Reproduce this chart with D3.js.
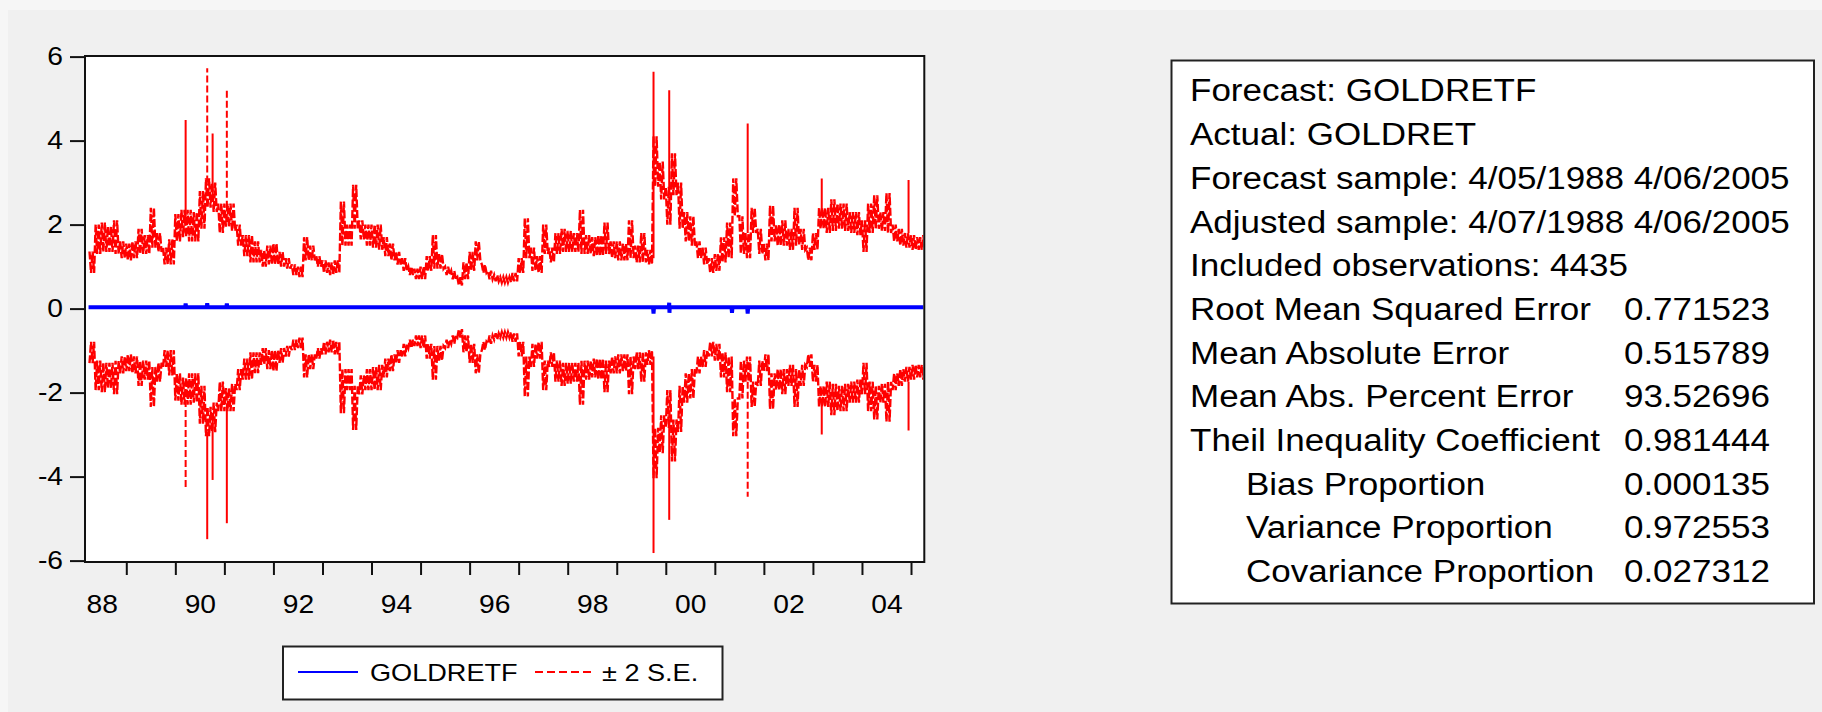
<!DOCTYPE html>
<html><head><meta charset="utf-8">
<script src="https://cdn.jsdelivr.net/npm/d3@7"></script>
<style>
html,body{margin:0;padding:0;background:#f0f0f0;}
svg{display:block;}
text{font-family:"Liberation Sans", Arial, sans-serif; fill:#000;}
</style></head><body>
<svg id="chart" width="1822" height="712"></svg>
<script>
// ---------------- DATA ----------------
const yTickValues = [-6, -4, -2, 0, 2, 4, 6];
const yTickLabels = ["-6","-4","-2","0","2","4","6"];
const yearTicks = [1989,1990,1991,1992,1993,1994,1995,1996,1997,1998,1999,2000,2001,2002,2003,2004,2005];
const yearLabelPos = [1988.5,1990.5,1992.5,1994.5,1996.5,1998.5,2000.5,2002.5,2004.5];
const yearLabels = ["88","90","92","94","96","98","00","02","04"];

// sample dates of the +2 S.E. band (decimal years)
const bandTimes = [
 1988.25,1988.375,1988.5,1988.625,1988.75,1988.875,
 1989,1989.125,1989.25,1989.375,1989.5,1989.625,1989.75,1989.875,
 1990,1990.125,1990.25,1990.375,1990.5,1990.625,1990.75,1990.875,
 1991,1991.125,1991.25,1991.375,1991.5,1991.625,1991.75,1991.875,
 1992,1992.125,1992.25,1992.375,1992.5,1992.625,1992.75,1992.875,
 1993,1993.125,1993.25,1993.375,1993.5,1993.625,1993.75,1993.875,
 1994,1994.125,1994.25,1994.375,1994.5,1994.625,1994.75,1994.875,
 1995,1995.125,1995.25,1995.375,1995.5,1995.625,1995.75,1995.875,
 1996,1996.125,1996.25,1996.375,1996.5,1996.625,1996.75,1996.875,
 1997,1997.125,1997.25,1997.375,1997.5,1997.625,1997.75,1997.875,
 1998,1998.125,1998.25,1998.375,1998.5,1998.625,1998.75,1998.875,
 1999,1999.125,1999.25,1999.375,1999.5,1999.625,1999.75,1999.875,
 2000,2000.125,2000.25,2000.375,2000.5,2000.625,2000.75,2000.875,
 2001,2001.125,2001.25,2001.375,2001.5,2001.625,2001.75,2001.875,
 2002,2002.125,2002.25,2002.375,2002.5,2002.625,2002.75,2002.875,
 2003,2003.125,2003.25,2003.375,2003.5,2003.625,2003.75,2003.875,
 2004,2004.125,2004.25,2004.375,2004.5,2004.625,2004.75,2004.875,
 2005,2005.125,2005.25
];
// upper band: outer (high) edge of the jagged band
const upperOuter = [
 1.36,2.0,2.05,1.95,2.1,1.6,
 1.55,1.6,1.9,1.75,2.4,1.8,1.45,1.65,
 2.25,2.35,2.35,2.3,2.8,3.1,3.0,2.5,
 2.5,2.5,2.0,1.75,1.75,1.6,1.4,1.5,
 1.55,1.35,1.2,1.05,1.0,1.7,1.5,1.25,
 1.15,1.1,1.15,2.55,2.0,2.95,2.1,2.0,
 2.0,2.0,1.7,1.55,1.35,1.2,1.0,0.95,
 1.0,1.25,1.75,1.3,1.0,0.9,0.75,1.1,
 1.35,1.6,1.05,0.9,0.8,0.75,0.75,0.85,
 1.2,2.15,1.45,1.25,2.0,1.45,1.8,1.9,
 1.85,1.8,2.35,1.75,1.7,1.75,2.05,1.6,
 1.6,1.55,2.1,1.5,1.8,1.4,4.1,3.5,
 2.9,3.7,3.0,2.3,2.2,1.6,1.45,1.2,
 1.3,1.7,2.05,3.1,2.2,1.8,2.4,1.9,
 1.55,2.45,2.0,2.1,1.9,2.4,1.9,1.45,
 1.8,2.4,2.4,2.6,2.5,2.5,2.3,2.3,
 2.1,2.5,2.7,2.3,2.75,2.0,1.9,1.8,
 1.75,1.7,1.75
];
// upper band: inner (low) edge of the jagged band
const upperInner = [
 0.85,1.3,1.35,1.35,1.3,1.2,
 1.15,1.2,1.3,1.3,1.45,1.35,1.05,1.05,
 1.6,1.7,1.6,1.6,1.9,2.4,2.3,1.8,
 1.95,1.85,1.5,1.25,1.1,1.1,1.0,1.05,
 1.05,1.0,0.95,0.8,0.75,1.15,1.15,1.0,
 0.85,0.8,0.85,1.5,1.5,1.9,1.65,1.5,
 1.45,1.4,1.25,1.15,1.05,0.9,0.8,0.7,
 0.7,0.9,0.95,0.95,0.8,0.7,0.55,0.7,
 0.9,1.15,0.85,0.7,0.65,0.62,0.62,0.65,
 0.85,1.2,0.9,0.85,1.3,1.1,1.3,1.35,
 1.35,1.35,1.3,1.3,1.25,1.25,1.3,1.2,
 1.15,1.15,1.2,1.1,1.1,1.05,2.9,2.6,
 2.0,2.7,1.9,1.6,1.5,1.2,1.05,0.85,
 0.9,1.1,1.2,2.2,1.3,1.2,1.8,1.3,
 1.15,1.6,1.5,1.5,1.4,1.5,1.4,1.15,
 1.4,1.9,1.8,1.85,1.9,1.85,1.8,1.75,
 1.35,1.8,1.9,1.85,1.8,1.6,1.5,1.45,
 1.4,1.4,1.45
];
// isolated spikes of the bands
const spikeTimes = [1990.21,1990.65,1990.76,1991.05,1999.75,2000.07,2001.67,2003.18,2004.95];
const spikeUpper = [4.49,5.72,4.17,5.25,5.64,5.2,4.41,3.1,3.06];
const spikeLower = [-4.28,-5.49,-4.08,-5.11,-5.82,-5.03,-4.48,-3.0,-2.9];
const spikeBase  = [2.0,3.0,2.6,2.4,1.2,2.7,1.8,2.2,1.8];

// forecast GOLDRETF (nearly flat, small blips)
const forecastTimes = [1988.23,1990.2,1990.21,1990.22,1990.64,1990.65,1990.66,1991.04,1991.05,1991.06,
  1999.74,1999.75,1999.76,2000.06,2000.07,2000.075,2000.08,2001.34,2001.35,2001.36,2001.66,2001.67,2001.68,2005.27];
const forecastValues = [0.03,0.03,0.12,0.03,0.03,0.13,0.03,0.03,0.12,0.03,
  0.03,-0.12,0.03,0.03,0.14,-0.1,0.03,0.03,-0.1,0.03,0.03,-0.12,0.03,0.03];
const forecastLevel = 0.03;

const statLabels = ["Forecast: GOLDRETF","Actual: GOLDRET","Forecast sample: 4/05/1988 4/06/2005",
  "Adjusted sample: 4/07/1988 4/06/2005","Included observations: 4435","Root Mean Squared Error",
  "Mean Absolute Error","Mean Abs. Percent Error","Theil Inequality Coefficient",
  "Bias Proportion","Variance Proportion","Covariance Proportion"];
const statValues = ["","","","","","0.771523","0.515789","93.52696","0.981444","0.000135","0.972553","0.027312"];
const statIndent = [0,0,0,0,0,0,0,0,0,1,1,1];
const legendLabels = ["GOLDRETF","\u00B1 2 S.E."];

// ---------------- LAYOUT ----------------
const svg = d3.select("#chart");
const W = 1822, H = 712;
const P = {left:85, right:924.3, top:56, bottom:562};
const SX = 1.13; // horizontal text stretch of the original bitmap
const RED = "#ff0000", BLUE = "#0000ff";

svg.append("rect").attr("width",W).attr("height",H).attr("fill","#f6f6f6");
svg.append("rect").attr("x",8).attr("y",10).attr("width",W-8).attr("height",H-10).attr("fill","#f0f0f0");

const x = d3.scaleLinear().domain([1988.158, 2005.271]).range([P.left, P.right]);
const y = d3.scaleLinear().domain([-6, 6]).range([560.6, 56.6]);

svg.append("rect").attr("x",P.left).attr("y",P.top).attr("width",P.right-P.left).attr("height",P.bottom-P.top)
  .attr("fill","#fff");

svg.append("clipPath").attr("id","clip").append("rect")
  .attr("x",P.left+1).attr("y",P.top+1).attr("width",P.right-P.left-2).attr("height",P.bottom-P.top-2);

const plot = svg.append("g").attr("clip-path","url(#clip)");
const line = d3.line().x(d=>x(d[0])).y(d=>y(d[1]));
const q = 0.125/4; // jitter spacing inside one sample

// upper band: daily jitter drawn between the read outer and inner edges
const upperPts = [];
bandTimes.forEach((t,i)=>{
  upperPts.push([t, upperOuter[i]]);
  upperPts.push([t+q, upperInner[i]]);
  upperPts.push([t+2*q, upperOuter[i]]);
  upperPts.push([t+3*q, upperInner[i]]);
});
// lower band = forecast - 2 S.E. (mirror of the upper band around the forecast)
const lowerPts = upperPts.map(d=>[d[0], 2*forecastLevel - d[1]]);

const dash = "8,2.5";
[upperPts, lowerPts].forEach(pts=>{
  plot.append("path").attr("d", line(pts)).attr("fill","none").attr("stroke",RED)
    .attr("stroke-width",2.4).attr("stroke-dasharray",dash).attr("stroke-linejoin","miter");
});
const dashedUp = [1990.65, 1991.05];
const dashedLo = [1990.21, 2001.67];
spikeTimes.forEach((t,i)=>{
  plot.append("path").attr("d", line([[t, spikeBase[i]],[t, spikeUpper[i]]]))
    .attr("stroke",RED).attr("stroke-width",2).attr("fill","none")
    .attr("stroke-dasharray", dashedUp.includes(t) ? "7,3" : null);
  plot.append("path").attr("d", line([[t, 2*forecastLevel - spikeBase[i]],[t, spikeLower[i]]]))
    .attr("stroke",RED).attr("stroke-width",2).attr("fill","none")
    .attr("stroke-dasharray", dashedLo.includes(t) ? "7,3" : null);
});

// forecast line
plot.append("path").attr("d", line(forecastTimes.map((t,i)=>[t, forecastValues[i]])))
  .attr("fill","none").attr("stroke",BLUE).attr("stroke-width",4);

// frame
svg.append("rect").attr("x",P.left).attr("y",P.top).attr("width",P.right-P.left).attr("height",P.bottom-P.top)
  .attr("fill","none").attr("stroke","#111").attr("stroke-width",2);

// y axis
const gy = svg.append("g").attr("transform",`translate(${P.left},0)`)
  .call(d3.axisLeft(y).tickValues(yTickValues).tickSize(15).tickFormat((d,i)=>yTickLabels[i]));
gy.select(".domain").remove();
gy.selectAll(".tick line").attr("stroke","#111").attr("stroke-width",2);
gy.selectAll(".tick text").attr("x",-22/SX).attr("transform",`scale(${SX},1)`)
  .style("font-size","25px").attr("font-family",null);

// x axis ticks (Jan 1 each year)
const gx = svg.append("g").attr("transform",`translate(0,${P.bottom})`)
  .call(d3.axisBottom(x).tickValues(yearTicks).tickSize(13).tickFormat(""));
gx.select(".domain").remove();
gx.selectAll(".tick line").attr("stroke","#111").attr("stroke-width",2);
// x labels (mid-year)
const gxl = svg.append("g").attr("transform",`translate(0,${P.bottom})`)
  .call(d3.axisBottom(x).tickValues(yearLabelPos).tickSize(0).tickFormat((d,i)=>yearLabels[i]));
gxl.select(".domain").remove();
gxl.selectAll(".tick text").attr("y",51).attr("dy",null).attr("transform",`scale(${SX},1)`)
  .style("font-size","25px").attr("font-family",null);

// ---------------- STATS BOX ----------------
svg.append("rect").attr("x",1171.5).attr("y",60.5).attr("width",642.5).attr("height",543)
  .attr("fill","#fff").attr("stroke","#222").attr("stroke-width",2);
const sg = svg.append("g").attr("transform",`translate(1190,0) scale(${SX},1)`);
statLabels.forEach((s,i)=>{
  const yy = 101.5 + i*43.7;
  sg.append("text").attr("x", statIndent[i] ? 49.5 : 0).attr("y", yy).style("font-size","31px").text(s);
  if (statValues[i]) sg.append("text").attr("x", 384).attr("y", yy).style("font-size","31px").text(statValues[i]);
});

// ---------------- LEGEND ----------------
svg.append("rect").attr("x",283).attr("y",646.5).attr("width",439.5).attr("height",53)
  .attr("fill","#fff").attr("stroke","#222").attr("stroke-width",2);
svg.append("line").attr("x1",298).attr("x2",358).attr("y1",672).attr("y2",672)
  .attr("stroke",BLUE).attr("stroke-width",2);
svg.append("text").attr("transform",`translate(370,681) scale(${SX},1)`).style("font-size","24px").text(legendLabels[0]);
svg.append("line").attr("x1",535).attr("x2",593).attr("y1",672).attr("y2",672)
  .attr("stroke",RED).attr("stroke-width",2).attr("stroke-dasharray","8,4");
svg.append("text").attr("transform",`translate(602,681) scale(${SX},1)`).style("font-size","24px").text(legendLabels[1]);
</script>
</body></html>
